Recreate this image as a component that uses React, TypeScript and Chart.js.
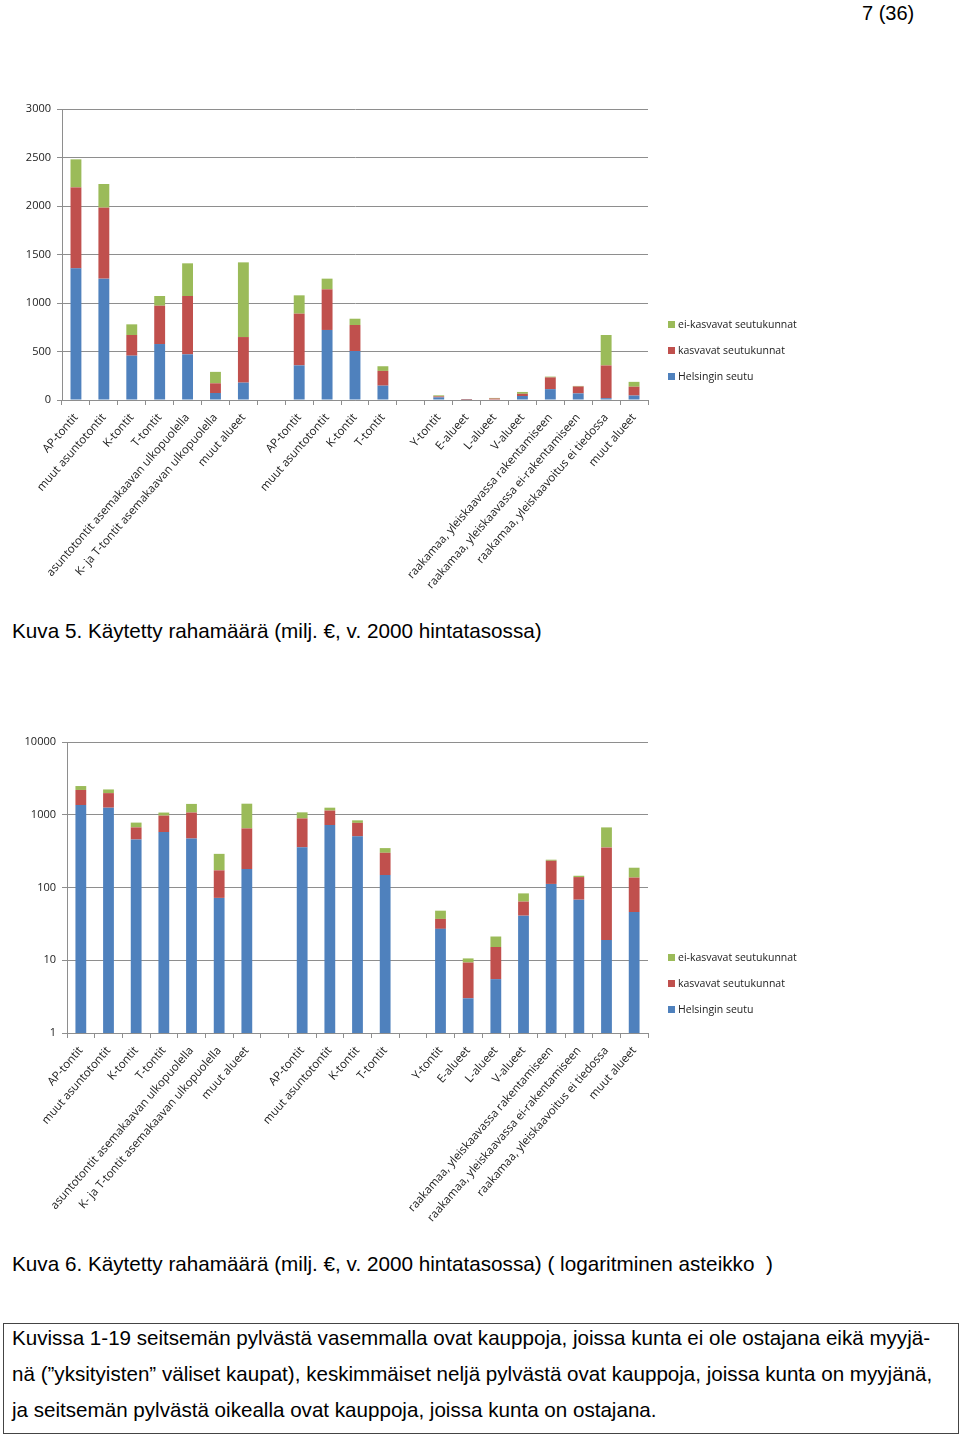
import React, { useEffect, useRef } from "react";
import { Chart, registerables } from "chart.js";

Chart.register(...registerables);

// ---------- DATA ----------
const categories: string[] = [
  "AP-tontit",
  "muut asuntotontit",
  "K-tontit",
  "T-tontit",
  "asuntotontit asemakaavan ulkopuolella",
  "K- ja T-tontit asemakaavan ulkopuolella",
  "muut alueet",
  "",
  "AP-tontit",
  "muut asuntotontit",
  "K-tontit",
  "T-tontit",
  "",
  "Y-tontit",
  "E-alueet",
  "L-alueet",
  "V-alueet",
  "raakamaa, yleiskaavassa rakentamiseen",
  "raakamaa, yleiskaavassa ei-rakentamiseen",
  "raakamaa, yleiskaavoitus ei tiedossa",
  "muut alueet",
];

const helsinginSeutu: (number | null)[] = [1357, 1251, 457, 577, 471, 72, 179, null, 357, 722, 505, 148, null, 27, 3.0, 5.5, 41, 112, 68, 19, 46];
const kasvavat: (number | null)[] = [835, 732, 213, 395, 601, 100, 470, null, 533, 419, 268, 152, null, 10, 6.3, 9.7, 23, 121, 71, 337, 91];
const eiKasvavat: (number | null)[] = [289, 244, 110, 100, 337, 118, 770, null, 189, 110, 65, 48, null, 11, 1.3, 6.0, 19, 8, 6, 314, 50];

const seriesNames = ["Helsingin seutu", "kasvavat seutukunnat", "ei-kasvavat seutukunnat"];
const seriesColors = ["#4F81BD", "#C0504D", "#9BBB59"];

const linearTicks = [0, 500, 1000, 1500, 2000, 2500, 3000];
const logTicks = [1, 10, 100, 1000, 10000];

const GRID = "#8e8e8e";
const TEXT = "#222";
const CHART_FONT = "'Open Sans', 'DejaVu Sans', sans-serif";

function makeConfig(log: boolean, yWidth: number): any {
  const seriesData = [helsinginSeutu, kasvavat, eiKasvavat];
  const yCommon = {
    stacked: true,
    grid: { color: GRID, tickLength: 5 },
    border: { color: GRID, width: 1 },
    ticks: {
      padding: 6,
      color: TEXT,
      font: { family: CHART_FONT, size: 11 },
      callback: (v: any) => String(v),
    },
    afterFit: (s: any) => {
      s.width = yWidth;
    },
  };
  return {
    type: "bar",
    data: {
      labels: categories,
      datasets: seriesNames.map((name, i) => ({
        label: name,
        data: seriesData[i],
        backgroundColor: seriesColors[i],
        borderWidth: 0,
      })),
    },
    options: {
      animation: false,
      responsive: false,
      maintainAspectRatio: false,
      layout: { padding: { top: log ? 22 : 19, right: 182, bottom: 0, left: 0 } },
      datasets: { bar: { categoryPercentage: 1, barPercentage: 0.39 } },
      plugins: { legend: { display: false }, tooltip: { enabled: false } },
      scales: {
        x: {
          stacked: true,
          offset: true,
          grid: { offset: true, drawOnChartArea: false, drawTicks: true, tickLength: 5, color: GRID },
          border: { color: GRID, width: 1 },
          ticks: {
            autoSkip: false,
            minRotation: 49,
            maxRotation: 49,
            padding: 6,
            color: TEXT,
            font: { family: CHART_FONT, size: 11.5 },
          },
          afterFit: (s: any) => {
            s.height = 200;
          },
        },
        y: log
          ? {
              ...yCommon,
              type: "logarithmic",
              min: 1,
              max: 10000,
              afterBuildTicks: (s: any) => {
                s.ticks = logTicks.map((v) => ({ value: v }));
              },
            }
          : {
              ...yCommon,
              type: "linear",
              min: 0,
              max: 3000,
              afterBuildTicks: (s: any) => {
                s.ticks = linearTicks.map((v) => ({ value: v }));
              },
            },
      },
    },
  };
}

function ChartBox(props: { log: boolean; top: number; height: number; yWidth: number }) {
  const ref = useRef<HTMLCanvasElement | null>(null);
  useEffect(() => {
    if (!ref.current) return;
    const c = new Chart(ref.current, makeConfig(props.log, props.yWidth));
    return () => c.destroy();
  }, []);
  return (
    <canvas
      ref={ref}
      width={830}
      height={props.height}
      style={{ position: "absolute", left: 0, top: props.top, width: 830, height: props.height }}
    />
  );
}

function Legend(props: { top: number }) {
  const order = [2, 1, 0];
  return (
    <div style={{ position: "absolute", left: 668, top: props.top }}>
      {order.map((i, k) => (
        <div
          key={i}
          style={{
            position: "absolute",
            left: 0,
            top: k * 26,
            whiteSpace: "nowrap",
            fontFamily: CHART_FONT,
            fontSize: 10.5,
            lineHeight: "14px",
            color: TEXT,
          }}
        >
          <span
            style={{
              display: "inline-block",
              width: 7,
              height: 7,
              background: seriesColors[i],
              marginRight: 3,
              verticalAlign: "middle",
              position: "relative",
              top: -1,
            }}
          />
          {seriesNames[i]}
        </div>
      ))}
    </div>
  );
}

const pageFont = "'Liberation Sans', Arial, Helvetica, sans-serif";

function Txt(props: { left: number; top: number; size: number; children: any }) {
  return (
    <div
      style={{
        position: "absolute",
        left: props.left,
        top: props.top,
        fontFamily: pageFont,
        fontSize: props.size,
        lineHeight: `${Math.round(props.size)}px`,
        whiteSpace: "nowrap",
        color: "#000",
      }}
    >
      {props.children}
    </div>
  );
}

export default function App() {
  return (
    <div style={{ position: "absolute", left: 0, top: 0, width: 960, height: 1435, background: "#fff", overflow: "hidden" }}>
      <Txt left={862} top={3} size={20}>7 (36)</Txt>

      <ChartBox log={false} top={90} height={510} yWidth={62} />
      <Legend top={317} />
      <Txt left={12} top={620} size={20.7}>Kuva 5. Käytetty rahamäärä (milj. €, v. 2000 hintatasossa)</Txt>

      <ChartBox log={true} top={720} height={513} yWidth={67} />
      <Legend top={950} />
      <Txt left={12} top={1253} size={20.7}>Kuva 6. Käytetty rahamäärä (milj. €, v. 2000 hintatasossa) ( logaritminen asteikko&nbsp;&nbsp;)</Txt>

      <div
        style={{
          position: "absolute",
          left: 3,
          top: 1323,
          width: 954,
          height: 109,
          border: "1px solid #444",
        }}
      />
      <Txt left={12} top={1327} size={20.6}>Kuvissa 1-19 seitsemän pylvästä vasemmalla ovat kauppoja, joissa kunta ei ole ostajana eikä myyjä-</Txt>
      <Txt left={12} top={1363} size={20.6}>nä (”yksityisten” väliset kaupat), keskimmäiset neljä pylvästä ovat kauppoja, joissa kunta on myyjänä,</Txt>
      <Txt left={12} top={1399} size={20.6}>ja seitsemän pylvästä oikealla ovat kauppoja, joissa kunta on ostajana.</Txt>
    </div>
  );
}
